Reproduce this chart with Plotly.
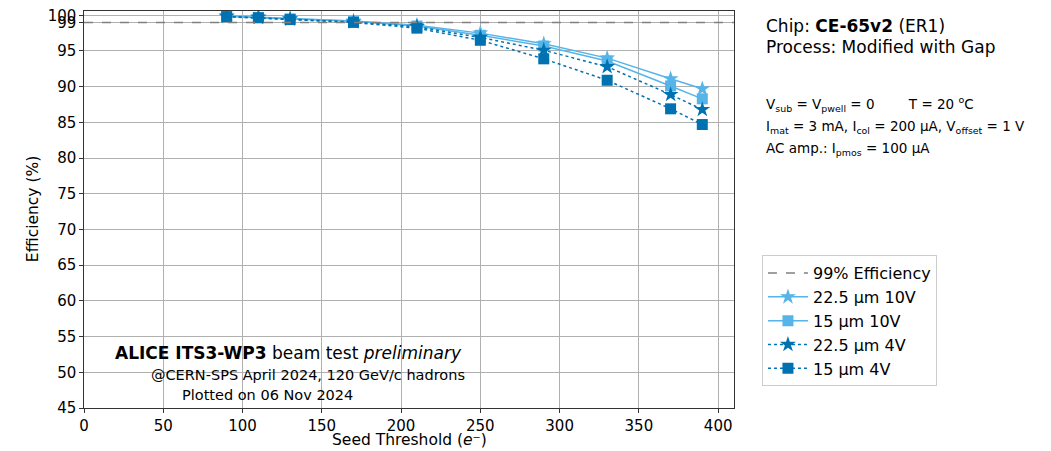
import plotly.graph_objects as go

threshold = [90, 110, 130, 170, 210, 250, 290, 330, 370, 390]
eff_225_10V = [99.9, 99.75, 99.55, 99.2, 98.6, 97.5, 96.0, 94.0, 91.1, 89.7]
eff_15_10V = [99.85, 99.7, 99.5, 99.15, 98.5, 97.2, 95.7, 93.6, 90.1, 88.3]
eff_225_4V = [99.85, 99.7, 99.45, 99.05, 98.4, 96.9, 95.1, 92.8, 88.9, 86.8]
eff_15_4V = [99.8, 99.65, 99.4, 99.0, 98.2, 96.5, 93.9, 90.9, 86.9, 84.7]
err = [0.1, 0.1, 0.1, 0.15, 0.2, 0.25, 0.3, 0.35, 0.4, 0.4]

yticks = [45, 50, 55, 60, 65, 70, 75, 80, 85, 90, 95, 99, 100]
xticks = [0, 50, 100, 150, 200, 250, 300, 350, 400]

LIGHT = "#56B4E9"
DARK = "#0072B2"
FONT = "DejaVu Sans"

fig = go.Figure()

fig.add_trace(go.Scatter(x=[None], y=[None], mode="lines", name="99% Efficiency",
                         line=dict(color="gray", dash="dash", width=1.5)))

series = [
    ("22.5 µm 10V", eff_225_10V, LIGHT, "solid", "star", 12),
    ("15 µm 10V", eff_15_10V, LIGHT, "solid", "square", 11),
    ("22.5 µm 4V", eff_225_4V, DARK, "dot", "star", 12),
    ("15 µm 4V", eff_15_4V, DARK, "dot", "square", 11),
]
for name, ys, col, dash, sym, size in series:
    fig.add_trace(go.Scatter(
        x=threshold, y=ys, name=name, mode="lines+markers",
        line=dict(color=col, dash=dash, width=1.5),
        marker=dict(symbol=sym, size=size, color=col),
        error_y=dict(type="data", array=err, color=col, thickness=1.5, width=0),
    ))

fig.add_hline(y=99, line=dict(color="gray", dash="dash", width=1.5))

fig.update_xaxes(range=[0, 410], tickvals=xticks, showgrid=True, gridcolor="#b0b0b0",
                 gridwidth=1, showline=True, linecolor="#333", linewidth=1.2, mirror=True,
                 ticks="outside", ticklen=3.5, tickcolor="#333", zeroline=False,
                 automargin=False,
                 tickfont=dict(size=15, color="black"))
fig.update_yaxes(range=[45, 100.6], tickvals=yticks, showgrid=True, gridcolor="#b0b0b0",
                 gridwidth=1, showline=True, linecolor="#333", linewidth=1.2, mirror=True,
                 ticks="outside", ticklen=3.5, tickcolor="#333", zeroline=False,
                 automargin=False,
                 tickfont=dict(size=15, color="black"))

annots = [
    dict(x=1.048, y=0.962, text="Chip: <b>CE-65v2</b> (ER1)", size=17, xanchor="left", yanchor="middle"),
    dict(x=1.048, y=0.909, text="Process: Modified with Gap", size=17, xanchor="left", yanchor="middle"),
    dict(x=1.048, y=0.766, text="V<sub>sub</sub> = V<sub>pwell</sub> = 0        T = 20 <sup>o</sup>C", size=13.5, xanchor="left", yanchor="middle"),
    dict(x=1.048, y=0.708, text="I<sub>mat</sub> = 3 mA, I<sub>col</sub> = 200 µA, V<sub>offset</sub> = 1 V", size=13.5, xanchor="left", yanchor="middle"),
    dict(x=1.048, y=0.652, text="AC amp.: I<sub>pmos</sub> = 100 µA", size=13.5, xanchor="left", yanchor="middle"),
    dict(x=0.315, y=0.139, text="<b>ALICE ITS3-WP3</b> beam test <i>preliminary</i>", size=17, xanchor="center", yanchor="middle"),
    dict(x=0.345, y=0.083, text="@CERN-SPS April 2024, 120 GeV/c hadrons", size=14.5, xanchor="center", yanchor="middle"),
    dict(x=0.283, y=0.033, text="Plotted on 06 Nov 2024", size=14.5, xanchor="center", yanchor="middle"),
    dict(x=0.5, y=-0.105, text="Seed Threshold (<i>e</i>⁻)", size=15.5, xanchor="center", yanchor="bottom"),
]
for a in annots:
    fig.add_annotation(x=a["x"], y=a["y"], xref="paper", yref="paper", text=a["text"],
                       showarrow=False, xanchor=a["xanchor"], yanchor=a["yanchor"],
                       borderpad=0,
                       font=dict(size=a["size"], color="black", family=FONT))

fig.add_annotation(x=-0.079, y=0.5, xref="paper", yref="paper", text="Efficiency (%)",
                   showarrow=False, textangle=-90, xanchor="center", yanchor="middle",
                   font=dict(size=15.5, color="black", family=FONT))

fig.update_layout(
    width=1051, height=451,
    margin=dict(l=84, r=317, t=11, b=43),
    paper_bgcolor="white", plot_bgcolor="white",
    font=dict(family=FONT, color="black"),
    legend=dict(x=1.043, y=0.385, xanchor="left", yanchor="top",
                bordercolor="#cccccc", borderwidth=1, bgcolor="white",
                font=dict(size=16, color="black"), itemwidth=40, tracegroupgap=0),
)

fig.write_html("out.html")
